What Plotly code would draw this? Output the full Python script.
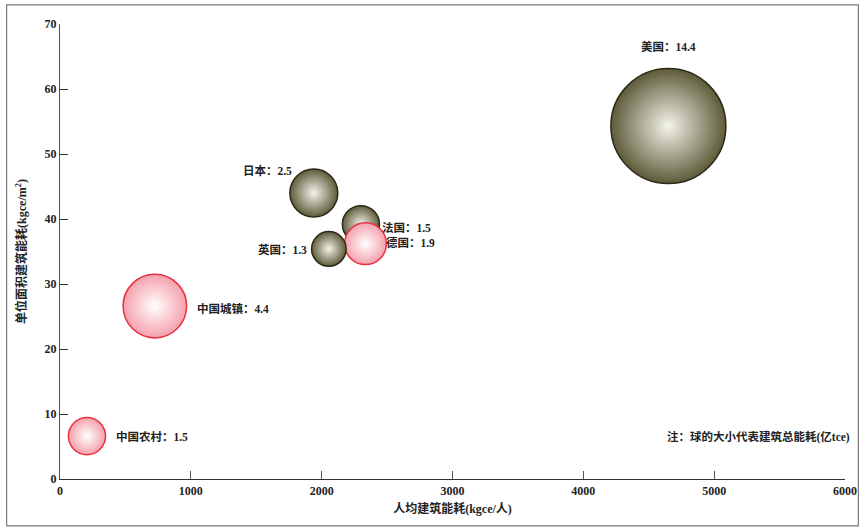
import plotly.graph_objects as go

# Data
names = ["美国", "日本", "法国", "德国", "英国", "中国城镇", "中国农村"]
per_capita = [4650, 1940, 2300, 2335, 2055, 725, 206]        # kgce/人
per_area = [54.3, 44.0, 39.2, 36.2, 35.4, 26.6, 6.6]          # kgce/m2
total = [14.4, 2.5, 1.5, 1.9, 1.3, 4.4, 1.5]                  # 亿tce
group = ["dev", "dev", "dev", "cn", "dev", "cn", "cn"]
x_ticks = [0, 1000, 2000, 3000, 4000, 5000, 6000]
y_ticks = [0, 10, 20, 30, 40, 50, 60, 70]

# label placement (style only)
label_pos = {
    "美国": dict(xanchor="center", yanchor="bottom", xshift=0, yshift=71),
    "日本": dict(xanchor="right", yanchor="bottom", xshift=-20, yshift=14),
    "法国": dict(xanchor="left", yanchor="middle", xshift=19, yshift=-3),
    "德国": dict(xanchor="left", yanchor="middle", xshift=18, yshift=1),
    "英国": dict(xanchor="right", yanchor="middle", xshift=-20, yshift=-1),
    "中国城镇": dict(xanchor="left", yanchor="middle", xshift=40, yshift=-2),
    "中国农村": dict(xanchor="left", yanchor="middle", xshift=27, yshift=0),
}

serif = "Liberation Serif, Noto Sans CJK SC, serif"
max_d = 115
sizeref = 2.0 * max(total) / (max_d ** 2)

fig = go.Figure()

styles = {
    "dev": dict(center="#f4f4ea", edge="#5e5b3a", line="#2b2a18"),
    "cn": dict(center="#ffffff", edge="#f5a0ac", line="#e8303e"),
}

for i, n in enumerate(names):
    st = styles[group[i]]
    fig.add_trace(go.Scatter(
        x=[per_capita[i]], y=[per_area[i]],
        mode="markers",
        marker=dict(
            size=[total[i]], sizemode="area", sizeref=sizeref,
            color=st["edge"],
            gradient=dict(type="radial", color=st["center"]),
            line=dict(color=st["line"], width=1.5),
            opacity=1,
        ),
        name=n, showlegend=False, hoverinfo="skip",
    ))

for i, n in enumerate(names):
    p = label_pos[n]
    fig.add_annotation(
        x=per_capita[i], y=per_area[i], xref="x", yref="y",
        text=f"<b>{n}：{total[i]}</b>", showarrow=False,
        font=dict(family=serif, size=11.5, color="#222"),
        **p,
    )

fig.add_annotation(
    x=1.009, y=0.092, xref="paper", yref="paper",
    xanchor="right", yanchor="middle", showarrow=False,
    text="<b>注：球的大小代表建筑总能耗(亿tce)</b>",
    font=dict(family=serif, size=11.5, color="#222"),
)

# outer frame
fig.add_shape(type="rect", xref="paper", yref="paper",
              x0=-0.068, x1=1.017, y0=-0.103, y1=1.042,
              line=dict(color="#777", width=1.2), layer="below")

fig.update_layout(
    width=863, height=528,
    margin=dict(l=60, r=18, t=24, b=49),
    paper_bgcolor="white", plot_bgcolor="white",
    font=dict(family=serif, color="#222"),
    xaxis=dict(
        range=[0, 6000], tickvals=x_ticks, ticktext=[f"<b>{v}</b>" for v in x_ticks],
        showgrid=False, zeroline=False, showline=True, linecolor="#333", linewidth=1.2,
        ticks="inside", ticklen=8, tickcolor="#555", automargin=False,
        tickfont=dict(family=serif, size=12, color="#222"),
        title=dict(text="<b>人均建筑能耗(kgce/人)</b>", font=dict(family=serif, size=12, color="#222"), standoff=8),
    ),
    yaxis=dict(
        range=[0, 70], tickvals=y_ticks, ticktext=[f"<b>{v}</b>" for v in y_ticks],
        showgrid=False, zeroline=False, showline=True, linecolor="#5a5030", linewidth=1.2,
        ticks="inside", ticklen=8, tickcolor="#333", automargin=False,
        tickfont=dict(family=serif, size=12, color="#222"),
        title=dict(text="<b>单位面积建筑能耗(kgce/m<sup>2</sup>)</b>", font=dict(family=serif, size=12, color="#222"), standoff=15),
    ),
)

fig.write_html("out.html", config={"displayModeBar": False},
               post_script="document.body.style.margin='0';document.body.style.overflow='hidden';")
